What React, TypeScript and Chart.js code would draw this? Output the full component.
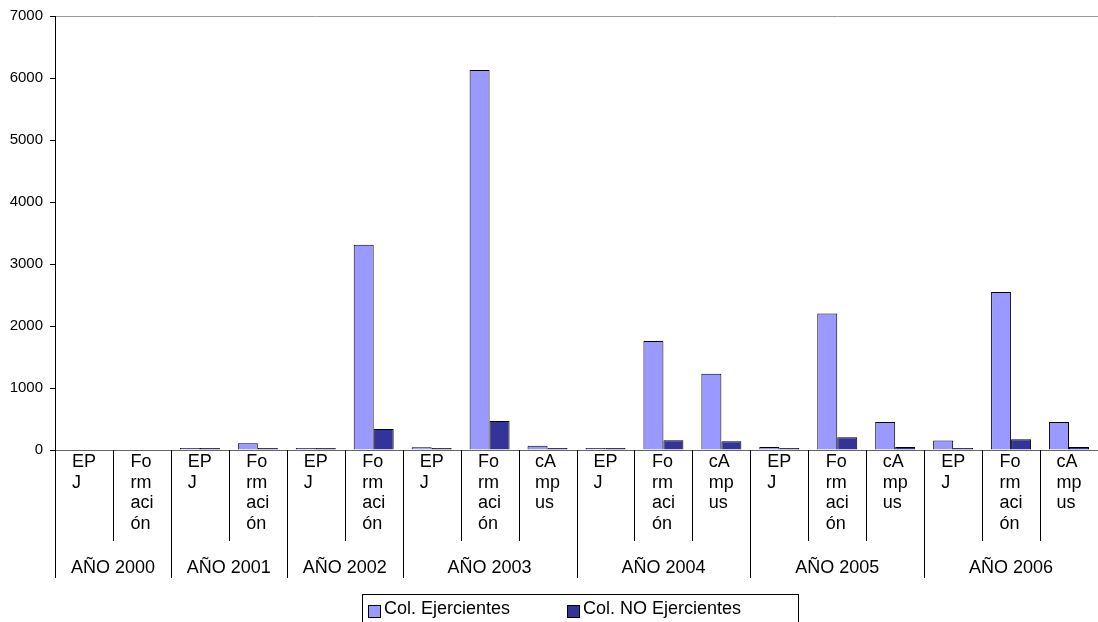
import React, { useEffect, useRef } from "react";
import { Chart, registerables } from "chart.js";

Chart.register(...registerables);

const groupLabels = ["AÑO 2000", "AÑO 2001", "AÑO 2002", "AÑO 2003", "AÑO 2004", "AÑO 2005", "AÑO 2006"];
const groupSizes = [2, 2, 2, 3, 3, 3, 3];

const EPJ = ["EP", "J"];
const FORM = ["Fo", "rm", "aci", "ón"];
const CAMP = ["cA", "mp", "us"];
const subLabels = [
  EPJ, FORM,
  EPJ, FORM,
  EPJ, FORM,
  EPJ, FORM, CAMP,
  EPJ, FORM, CAMP,
  EPJ, FORM, CAMP,
  EPJ, FORM, CAMP,
];

const seriesNames = ["Col. Ejercientes", "Col. NO Ejercientes"];
const ejercientes = [null, null, 15, 110, 15, 3310, 45, 6130, 70, 15, 1760, 1230, 50, 2200, 450, 155, 2550, 450];
const noEjercientes = [null, null, 15, 15, 15, 340, 15, 466, 10, 15, 156, 140, 15, 204, 48, 15, 172, 50];

const yTicks = [0, 1000, 2000, 3000, 4000, 5000, 6000, 7000];

const colors = ["#9999FF", "#333399"];
const FONT = "Liberation Sans, Arial, sans-serif";

const labelsPlugin = {
  id: "multiLevelLabels",
  afterDraw(chart: any) {
    const ctx = chart.ctx;
    const xs = chart.scales.x;
    const area = chart.chartArea;
    const n = subLabels.length;
    const w = (xs.right - xs.left) / n;
    ctx.save();
    ctx.strokeStyle = "#000";
    ctx.lineWidth = 1;
    ctx.fillStyle = "#000";
    ctx.font = `18px ${FONT}`;
    ctx.textBaseline = "alphabetic";
    const line = (x: number, y1: number, y2: number) => {
      const px = Math.round(x) + 0.5;
      ctx.beginPath();
      ctx.moveTo(px, y1);
      ctx.lineTo(px, y2);
      ctx.stroke();
    };
    let idx = 0;
    groupSizes.forEach((size, g) => {
      const gLeft = xs.getPixelForValue(idx) - w / 2;
      line(gLeft, area.bottom, 578);
      for (let i = 0; i < size; i++) {
        const c = xs.getPixelForValue(idx + i);
        if (i > 0) line(c - w / 2, area.bottom, 541);
        const chunks = subLabels[idx + i];
        let maxW = 0;
        chunks.forEach((t) => (maxW = Math.max(maxW, ctx.measureText(t).width)));
        ctx.textAlign = "left";
        chunks.forEach((t, k) => {
          ctx.fillText(t, c - maxW / 2, 467 + k * 20.7);
        });
      }
      const gRight = xs.getPixelForValue(idx + size - 1) + w / 2;
      ctx.textAlign = "center";
      ctx.fillText(groupLabels[g], (gLeft + gRight) / 2, 573);
      idx += size;
    });
    line(xs.right, area.bottom, 578);

    // legend
    ctx.strokeStyle = "#000";
    ctx.strokeRect(362.5, 594.5, 436, 40);
    const items = [
      { x: 368, tx: 384 },
      { x: 567, tx: 583 },
    ];
    chart.data.datasets.forEach((ds: any, i: number) => {
      const it = items[i];
      ctx.fillStyle = ds.backgroundColor;
      ctx.fillRect(it.x, 605, 13, 13);
      ctx.strokeStyle = "#000";
      ctx.strokeRect(it.x + 0.5, 605.5, 12, 12);
      ctx.fillStyle = "#000";
      ctx.textAlign = "left";
      ctx.fillText(ds.label, it.tx, 614);
    });
    ctx.restore();
  },
};

export default function App() {
  const ref = useRef<HTMLCanvasElement | null>(null);
  useEffect(() => {
    document.body.style.margin = "0";
    const canvas = ref.current;
    if (!canvas) return;
    const chart = new Chart(canvas, {
      type: "bar",
      data: {
        labels: subLabels.map((s) => s.join("")),
        datasets: [
          {
            label: seriesNames[0],
            data: ejercientes,
            backgroundColor: colors[0],
            borderColor: "#000",
            borderWidth: 1,
            minBarLength: 2,
            categoryPercentage: 0.69,
            barPercentage: 1,
          },
          {
            label: seriesNames[1],
            data: noEjercientes,
            backgroundColor: colors[1],
            borderColor: "#000",
            borderWidth: 1,
            minBarLength: 2,
            categoryPercentage: 0.69,
            barPercentage: 1,
          },
        ],
      },
      options: {
        responsive: false,
        animation: false,
        devicePixelRatio: 1,
        layout: { padding: { top: 15, left: 0, right: 0, bottom: 0 } },
        plugins: {
          legend: { display: false },
          tooltip: { enabled: false },
          title: { display: false },
        },
        scales: {
          x: {
            type: "category",
            offset: true,
            ticks: { display: false },
            grid: { display: false },
            border: { display: true, color: "#666", width: 1 },
            afterFit: (scale: any) => {
              scale.height = 172;
            },
          },
          y: {
            min: 0,
            max: 7000,
            afterBuildTicks: (scale: any) => {
              scale.ticks = yTicks.map((v) => ({ value: v }));
            },
            ticks: {
              color: "#000",
              font: { family: FONT, size: 15 },
              padding: 7,
              callback: (v: any) => String(v),
            },
            grid: {
              drawOnChartArea: true,
              color: (c: any) => (c.tick && c.tick.value === 7000 ? "#999" : "rgba(0,0,0,0)"),
              tickColor: "#000",
              tickLength: 5,
            },
            border: { display: true, color: "#000", width: 1 },
            afterFit: (scale: any) => {
              scale.width = 55;
            },
          },
        },
      },
      plugins: [labelsPlugin],
    });
    return () => chart.destroy();
  }, []);
  return (
    <div style={{ width: 1098, height: 622, position: "relative" }}>
      <canvas ref={ref} width={1098} height={622} style={{ display: "block" }} />
    </div>
  );
}
